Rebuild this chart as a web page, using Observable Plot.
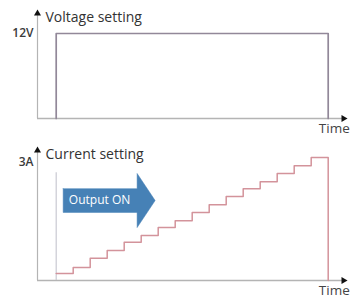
<!DOCTYPE html>
<html>
<head>
<meta charset="utf-8">
<script src="https://cdn.jsdelivr.net/npm/d3@7"></script>
<script src="https://cdn.jsdelivr.net/npm/@observablehq/plot@0.6"></script>
<style>
  html, body { margin: 0; padding: 0; background: #fff; }
  #chart svg { display: block; }
  #chart { width: 350px; height: 299px; overflow: hidden; }
</style>
</head>
<body>
<div id="chart"></div>
<script>
// ---- data ----
const voltTimes = [0, 0, 16, 16];
const voltValues = [0, 12, 12, 0];
const voltTicks = [12];
const voltTitle = "Voltage setting";

const stepTimes = [0, 1, 2, 3, 4, 5, 6, 7, 8, 9, 10, 11, 12, 13, 14, 15, 16, 16];
const currentValues = [0.17, 0.32, 0.54, 0.73, 0.93, 1.10, 1.29, 1.46, 1.66, 1.85, 2.05, 2.24, 2.41, 2.61, 2.80, 3.0, 3.0, 0];
const currentTicks = [3];
const currentTitle = "Current setting";
const timeLabel = "Time";

// "Output ON" block arrow outline (time, amps)
const arrowT = [0.41, 4.76, 4.76, 5.82, 4.76, 4.76, 0.41, 0.41];
const arrowA = [2.24, 2.24, 2.61, 1.95, 1.29, 1.66, 1.66, 2.24];
const arrowText = "Output ON";

// ---- build ----
const xDomain = [-1.1, 16.9];
const font = "Open Sans, DejaVu Sans, sans-serif";
const axisColor = "#b4b4b4";

const voltData = voltTimes.map((t, i) => ({t, v: voltValues[i]}));
const curData = stepTimes.map((t, i) => ({t, a: currentValues[i]}));
const arrowData = arrowT.map((t, i) => ({t, a: arrowA[i]}));

function panel({height, marginTop, marginBottom, yMax, ticks, unit, tickDy, title, marks}) {
  return Plot.plot({
    width: 350,
    height,
    marginLeft: 37,
    marginRight: 7,
    marginTop,
    marginBottom,
    style: {fontFamily: font, background: "white", overflow: "visible"},
    x: {domain: xDomain, axis: null},
    y: {domain: [0, yMax], axis: null},
    marks: [
      Plot.axisY({ticks, tickFormat: d => d + unit, tickSize: 0, tickPadding: 4, dy: tickDy,
                  fontSize: 12, fontWeight: 600, color: "#3a3a3a", label: null}),
      Plot.ruleX([xDomain[0]], {y1: 0, y2: yMax, stroke: axisColor, strokeWidth: 1.2}),
      Plot.ruleY([0], {x1: xDomain[0], x2: xDomain[1], stroke: axisColor, strokeWidth: 1.5}),
      ...marks,
      Plot.dot([{t: xDomain[0], y: yMax}], {x: "t", y: "y", symbol: "triangle", r: 2.6, fill: "#111", stroke: "none"}),
      Plot.dot([{t: xDomain[1], y: 0}], {x: "t", y: "y", symbol: "triangle", r: 2.6, fill: "#111", stroke: "none", rotate: 90}),
      Plot.text([title], {x: xDomain[0], y: yMax, text: d => d, dx: 8, dy: 4, textAnchor: "start",
                          fontSize: 14, fill: "#333"}),
      Plot.text([timeLabel], {x: 15.45, y: 0, text: d => d, dy: 10, textAnchor: "start",
                              fontSize: 13.5, fill: "#444"})
    ]
  });
}

const topPanel = panel({
  height: 140, marginTop: 13, marginBottom: 22, yMax: 14.82,
  ticks: voltTicks, unit: "V", tickDy: 0, title: voltTitle,
  marks: [
    Plot.line(voltData, {x: "t", y: "v", stroke: "#928899", strokeWidth: 1.7})
  ]
});

const bottomPanel = panel({
  height: 159, marginTop: 10, marginBottom: 19, yMax: 3.17,
  ticks: currentTicks, unit: "A", tickDy: 5, title: currentTitle,
  marks: [
    Plot.ruleX([0], {y1: 0, y2: 2.63, stroke: "#c9c9d2", strokeWidth: 1.2}),
    Plot.line(arrowData, {x: "t", y: "a", fill: "#4681b6", stroke: "#4681b6", strokeWidth: 0.5}),
    Plot.text([arrowText], {x: 2.55, y: 1.95, text: d => d, fill: "white", fontSize: 12}),
    Plot.line(curData, {x: "t", y: "a", curve: "step-after", stroke: "#d3939b", strokeWidth: 1.5})
  ]
});

const chart = document.getElementById("chart");
chart.appendChild(topPanel);
chart.appendChild(bottomPanel);
</script>
</body>
</html>
